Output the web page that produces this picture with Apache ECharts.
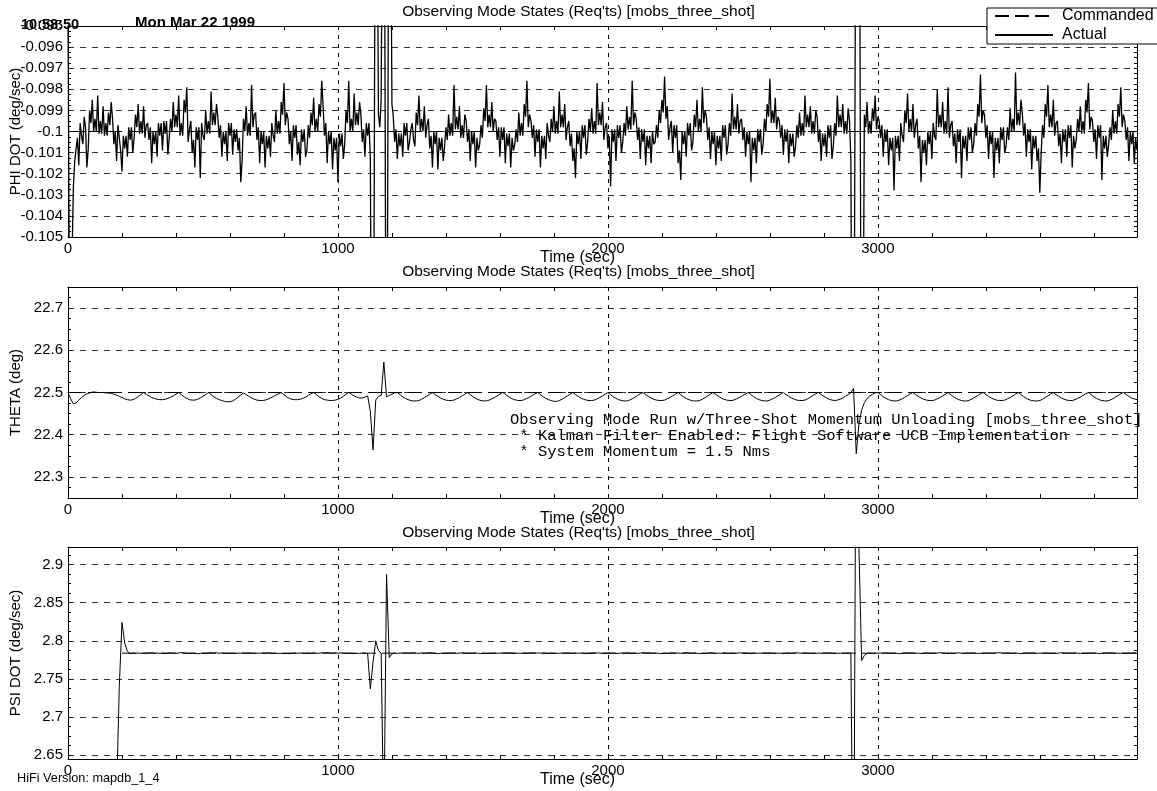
<!DOCTYPE html>
<html>
<head>
<meta charset="utf-8">
<title>Observing Mode States</title>
<script src="https://cdn.jsdelivr.net/npm/echarts@6/dist/echarts.min.js"></script>
<style>
  html, body { margin: 0; padding: 0; background: #fff; }
  #chart { width: 1157px; height: 791px; }
</style>
</head>
<body>
<div id="chart"></div>
<script>
// PHI DOT is sampled every 5 s, THETA and PSI DOT every 10 s.
const PHI_STEP = 5;
const ATT_STEP = 10;
const timeRange = [0, 3960];
const timeTicks = [0, 1000, 2000, 3000];

// PHI DOT (deg/sec), actual — one row per 100 s
const phiDot = [
  -0.0940, -0.1080, -0.1070, -0.1060, -0.1026, -0.1014, -0.1008, -0.1003, -0.1016, -0.0996, -0.1002, -0.1006, -0.0993, -0.0998, -0.1017, -0.1008, -0.0990, -0.0996, -0.0985, -0.1000,
  -0.0994, -0.1000, -0.0983, -0.1001, -0.0995, -0.1001, -0.0988, -0.1002, -0.0996, -0.1002, -0.0991, -0.0997, -0.0986, -0.0994, -0.1006, -0.1000, -0.1014, -0.0997, -0.1003, -0.1009,
  -0.1019, -0.1002, -0.1008, -0.1002, -0.1012, -0.0998, -0.1004, -0.0998, -0.1010, -0.1003, -0.0992, -0.0998, -0.0987, -0.1001, -0.0995, -0.1001, -0.0988, -0.1003, -0.0997, -0.0996,
  -0.1004, -0.0998, -0.1015, -0.1000, -0.1006, -0.1000, -0.1012, -0.0996, -0.1002, -0.0996, -0.1009, -0.0995, -0.1001, -0.0995, -0.1011, -0.1003, -0.0994, -0.1000, -0.0986, -0.0998,
  -0.0992, -0.0998, -0.0983, -0.1002, -0.0996, -0.1002, -0.0985, -0.0991, -0.0979, -0.1005, -0.0999, -0.0995, -0.1010, -0.1004, -0.1017, -0.0998, -0.1004, -0.0998, -0.1022, -0.0996,
  -0.1002, -0.1004, -0.0990, -0.1001, -0.0995, -0.1001, -0.0981, -0.0997, -0.0991, -0.0997, -0.0987, -0.0993, -0.1003, -0.0997, -0.1012, -0.1000, -0.1006, -0.1000, -0.1014, -0.0996,
  -0.1002, -0.0996, -0.1011, -0.0999, -0.1005, -0.0999, -0.1009, -0.1003, -0.1024, -0.1014, -0.0994, -0.1000, -0.0988, -0.1002, -0.0996, -0.1002, -0.0978, -0.0998, -0.0992, -0.0991,
  -0.1004, -0.0998, -0.1015, -0.1000, -0.1006, -0.1000, -0.1017, -0.1002, -0.1008, -0.1002, -0.1012, -0.0996, -0.1002, -0.1005, -0.0990, -0.1001, -0.0995, -0.1001, -0.0986, -0.0992,
  -0.0977, -0.0997, -0.0991, -0.0994, -0.1006, -0.1000, -0.1014, -0.0997, -0.1003, -0.0997, -0.1011, -0.1005, -0.1016, -0.0999, -0.1005, -0.0999, -0.1012, -0.1009, -0.0997, -0.1003,
  -0.0991, -0.0997, -0.0984, -0.1000, -0.0994, -0.1000, -0.0987, -0.0993, -0.0976, -0.0988, -0.1002, -0.0996, -0.1015, -0.1000, -0.1006, -0.1000, -0.1018, -0.1003, -0.1009, -0.1003,
  -0.1024, -0.1001, -0.1007, -0.1001, -0.1013, -0.1006, -0.0990, -0.0996, -0.0976, -0.1000, -0.0994, -0.1000, -0.0982, -0.0997, -0.0991, -0.0997, -0.0986, -0.0992, -0.1005, -0.0999,
  -0.1012, -0.0996, -0.1002, -0.0996, -0.1013, -0.1150, -0.1200, -0.1000, -0.0800, -0.0880, -0.0992, -0.0998, -0.0985, -0.0880, -0.0800, -0.1000, -0.1200, -0.1000, -0.0800, -0.0880,
  -0.0987, -0.0993, -0.1005, -0.0999, -0.1013, -0.1001, -0.1007, -0.1001, -0.1012, -0.0996, -0.1002, -0.0996, -0.1009, -0.1005, -0.0999, -0.0996, -0.1004, -0.1007, -0.0991, -0.0997,
  -0.0983, -0.1000, -0.0994, -0.1000, -0.0988, -0.1003, -0.0997, -0.0994, -0.1008, -0.1002, -0.1017, -0.1000, -0.1006, -0.1000, -0.1018, -0.1003, -0.1009, -0.1003, -0.1014, -0.1007,
  -0.0998, -0.1004, -0.0992, -0.1002, -0.0996, -0.1002, -0.0978, -0.0999, -0.0993, -0.0999, -0.0988, -0.1003, -0.0997, -0.1003, -0.0992, -0.0995, -0.1005, -0.0999, -0.1014, -0.1000,
  -0.1006, -0.1000, -0.1017, -0.1003, -0.1009, -0.1006, -0.0997, -0.1003, -0.0989, -0.0995, -0.0978, -0.0998, -0.0992, -0.0998, -0.0986, -0.1000, -0.0994, -0.0995, -0.1004, -0.0998,
  -0.1012, -0.0998, -0.1004, -0.0998, -0.1015, -0.1001, -0.1007, -0.1001, -0.1017, -0.1003, -0.1009, -0.1006, -0.0999, -0.1005, -0.0991, -0.1002, -0.0996, -0.1002, -0.0987, -0.0993,
  -0.0976, -0.0998, -0.0992, -0.0995, -0.1003, -0.0997, -0.1012, -0.0999, -0.1005, -0.0999, -0.1017, -0.1002, -0.1008, -0.1002, -0.1013, -0.0996, -0.1002, -0.1005, -0.0994, -0.1000,
  -0.0988, -0.1001, -0.0995, -0.1001, -0.0981, -0.0998, -0.0992, -0.0998, -0.0987, -0.1004, -0.0998, -0.0995, -0.1007, -0.1001, -0.1014, -0.1008, -0.1022, -0.1000, -0.1006, -0.1000,
  -0.1013, -0.0997, -0.1003, -0.0997, -0.1011, -0.1005, -0.0994, -0.1000, -0.0989, -0.1001, -0.0995, -0.1001, -0.0977, -0.0997, -0.0991, -0.0997, -0.0986, -0.1004, -0.0998, -0.0996,
  -0.1008, -0.1002, -0.1026, -0.0999, -0.1005, -0.0999, -0.1014, -0.0997, -0.1003, -0.0997, -0.1010, -0.1005, -0.0996, -0.1002, -0.0988, -0.0999, -0.0993, -0.0999, -0.0976, -0.0997,
  -0.0991, -0.0994, -0.1004, -0.0998, -0.1013, -0.0999, -0.1005, -0.0999, -0.1016, -0.1002, -0.1008, -0.1002, -0.1015, -0.1000, -0.1006, -0.1005, -0.0997, -0.1003, -0.0990, -0.0996,
  -0.0985, -0.0991, -0.0974, -0.0994, -0.0988, -0.1004, -0.0998, -0.0995, -0.1010, -0.0997, -0.1003, -0.0997, -0.1015, -0.1009, -0.1023, -0.1000, -0.1006, -0.1000, -0.1012, -0.0996,
  -0.1002, -0.0996, -0.1009, -0.1005, -0.0992, -0.0998, -0.0985, -0.1000, -0.0994, -0.1000, -0.0979, -0.0996, -0.0990, -0.0993, -0.1004, -0.0998, -0.1013, -0.1000, -0.1006, -0.1000,
  -0.1016, -0.1002, -0.1008, -0.1002, -0.1014, -0.0997, -0.1003, -0.0997, -0.1011, -0.1006, -0.0996, -0.1002, -0.0982, -0.0999, -0.0993, -0.0999, -0.0987, -0.1001, -0.0995, -0.0994,
  -0.1004, -0.0998, -0.1012, -0.1000, -0.1006, -0.1000, -0.1024, -0.1003, -0.1009, -0.1003, -0.1015, -0.0999, -0.1005, -0.0999, -0.1011, -0.1006, -0.0994, -0.1000, -0.0987, -0.0993,
  -0.0975, -0.0996, -0.0990, -0.0996, -0.0984, -0.0999, -0.0993, -0.0995, -0.1003, -0.0997, -0.1011, -0.0999, -0.1005, -0.0999, -0.1015, -0.1001, -0.1007, -0.1001, -0.1012, -0.1007,
  -0.0997, -0.1003, -0.0991, -0.1002, -0.0996, -0.1002, -0.0983, -0.0998, -0.0992, -0.0998, -0.0988, -0.1001, -0.0995, -0.1001, -0.0990, -0.0993, -0.1005, -0.0999, -0.1014, -0.1001,
  -0.1007, -0.1001, -0.1012, -0.0997, -0.1003, -0.0997, -0.1013, -0.1007, -0.0996, -0.1002, -0.0983, -0.0998, -0.0992, -0.0998, -0.0987, -0.1001, -0.0995, -0.1001, -0.0989, -0.0995,
  -0.1013, -0.1150, -0.1200, -0.1000, -0.0800, -0.0800, -0.0800, -0.1000, -0.1200, -0.1120, -0.0992, -0.0998, -0.0986, -0.1001, -0.0995, -0.1001, -0.0989, -0.0995, -0.0983, -0.0999,
  -0.0993, -0.0995, -0.1003, -0.0997, -0.1012, -0.0999, -0.1005, -0.0999, -0.1016, -0.1003, -0.1009, -0.1003, -0.1028, -0.1002, -0.1008, -0.1002, -0.1014, -0.0996, -0.1002, -0.1005,
  -0.0990, -0.0996, -0.0982, -0.1000, -0.0994, -0.1000, -0.0987, -0.1003, -0.0997, -0.0994, -0.1008, -0.1002, -0.1024, -0.1004, -0.1010, -0.1004, -0.1016, -0.1000, -0.1006, -0.1000,
  -0.1013, -0.0996, -0.1002, -0.1004, -0.0980, -0.0998, -0.0992, -0.0998, -0.0986, -0.1001, -0.0995, -0.1001, -0.0979, -0.1003, -0.0997, -0.0995, -0.1007, -0.1001, -0.1015, -0.0999,
  -0.1005, -0.0999, -0.1022, -0.1002, -0.1008, -0.1002, -0.1014, -0.0998, -0.1004, -0.0998, -0.1010, -0.1006, -0.0996, -0.1002, -0.0987, -0.0993, -0.0973, -0.0996, -0.0990, -0.0992,
  -0.1003, -0.0997, -0.1013, -0.1000, -0.1006, -0.1000, -0.1022, -0.1003, -0.1009, -0.1003, -0.1015, -0.0998, -0.1004, -0.0998, -0.1010, -0.1007, -0.0998, -0.1004, -0.0989, -0.1000,
  -0.0994, -0.1000, -0.0972, -0.0997, -0.0991, -0.0997, -0.0985, -0.0991, -0.1002, -0.0996, -0.1012, -0.0999, -0.1005, -0.0999, -0.1018, -0.1002, -0.1008, -0.1002, -0.1014, -0.1008,
  -0.1029, -0.1010, -0.0997, -0.1003, -0.0987, -0.0993, -0.0978, -0.0998, -0.0992, -0.0998, -0.0985, -0.1002, -0.0996, -0.0995, -0.1007, -0.1001, -0.1015, -0.0999, -0.1005, -0.0999,
  -0.1012, -0.0997, -0.1003, -0.0997, -0.1017, -0.1002, -0.1008, -0.1004, -0.0994, -0.1000, -0.0988, -0.1001, -0.0995, -0.1001, -0.0985, -0.0991, -0.0977, -0.0999, -0.0993, -0.0995,
  -0.1005, -0.0999, -0.1013, -0.0997, -0.1003, -0.0997, -0.1023, -0.1002, -0.1008, -0.1002, -0.1012, -0.1006, -0.0998, -0.1004, -0.0990, -0.1001, -0.0995, -0.1001, -0.0987, -0.0993,
  -0.0979, -0.0998, -0.0992, -0.0995, -0.1004, -0.0998, -0.1014, -0.1000, -0.1006, -0.1000, -0.1015, -0.1003, -0.1009
];

// THETA (deg), actual — one row per 100 s
const theta = [
  22.500, 22.485, 22.473, 22.475, 22.482, 22.488, 22.493, 22.497, 22.499, 22.501,
  22.501, 22.500, 22.500, 22.500, 22.499, 22.499, 22.498, 22.496, 22.494, 22.491,
  22.488, 22.485, 22.483, 22.482, 22.483, 22.486, 22.490, 22.495, 22.500, 22.496,
  22.492, 22.488, 22.486, 22.484, 22.483, 22.483, 22.484, 22.486, 22.489, 22.492,
  22.496, 22.500, 22.495, 22.490, 22.486, 22.483, 22.482, 22.482, 22.484, 22.487,
  22.491, 22.495, 22.500, 22.495, 22.490, 22.486, 22.483, 22.481, 22.479, 22.478,
  22.478, 22.480, 22.484, 22.489, 22.494, 22.499, 22.495, 22.491, 22.487, 22.484,
  22.482, 22.481, 22.481, 22.482, 22.484, 22.487, 22.490, 22.494, 22.497, 22.500,
  22.495, 22.490, 22.486, 22.484, 22.483, 22.483, 22.484, 22.486, 22.489, 22.493,
  22.497, 22.500, 22.495, 22.490, 22.486, 22.483, 22.482, 22.481, 22.481, 22.482,
  22.484, 22.487, 22.491, 22.496, 22.500, 22.496, 22.492, 22.489, 22.487, 22.487,
  22.489, 22.492, 22.455, 22.364, 22.482, 22.491, 22.493, 22.572, 22.490, 22.493,
  22.496, 22.499, 22.500, 22.495, 22.490, 22.486, 22.483, 22.481, 22.480, 22.480,
  22.481, 22.484, 22.488, 22.492, 22.496, 22.500, 22.495, 22.491, 22.487, 22.484,
  22.482, 22.481, 22.481, 22.482, 22.485, 22.488, 22.492, 22.496, 22.500, 22.495,
  22.490, 22.486, 22.483, 22.481, 22.480, 22.480, 22.482, 22.485, 22.488, 22.492,
  22.496, 22.500, 22.496, 22.491, 22.487, 22.484, 22.482, 22.481, 22.481, 22.483,
  22.486, 22.489, 22.493, 22.497, 22.500, 22.495, 22.490, 22.486, 22.483, 22.481,
  22.479, 22.479, 22.481, 22.484, 22.488, 22.492, 22.496, 22.500, 22.495, 22.491,
  22.487, 22.484, 22.482, 22.481, 22.481, 22.482, 22.485, 22.488, 22.492, 22.496,
  22.500, 22.495, 22.490, 22.486, 22.483, 22.481, 22.480, 22.480, 22.482, 22.485,
  22.489, 22.493, 22.497, 22.500, 22.495, 22.491, 22.487, 22.484, 22.482, 22.481,
  22.481, 22.482, 22.485, 22.488, 22.492, 22.496, 22.500, 22.495, 22.490, 22.486,
  22.483, 22.481, 22.480, 22.480, 22.481, 22.484, 22.488, 22.492, 22.496, 22.500,
  22.495, 22.491, 22.487, 22.484, 22.482, 22.481, 22.481, 22.483, 22.486, 22.489,
  22.493, 22.497, 22.500, 22.495, 22.490, 22.486, 22.483, 22.481, 22.480, 22.480,
  22.482, 22.485, 22.488, 22.492, 22.496, 22.500, 22.495, 22.491, 22.487, 22.484,
  22.482, 22.481, 22.481, 22.482, 22.485, 22.489, 22.493, 22.497, 22.500, 22.495,
  22.491, 22.487, 22.484, 22.482, 22.481, 22.482, 22.484, 22.487, 22.491, 22.495,
  22.499, 22.510, 22.355, 22.425, 22.458, 22.476, 22.486, 22.492, 22.496, 22.499,
  22.500, 22.495, 22.490, 22.486, 22.483, 22.481, 22.480, 22.480, 22.482, 22.485,
  22.489, 22.493, 22.497, 22.500, 22.495, 22.491, 22.487, 22.484, 22.482, 22.481,
  22.481, 22.482, 22.485, 22.488, 22.492, 22.496, 22.500, 22.495, 22.490, 22.486,
  22.483, 22.481, 22.480, 22.480, 22.482, 22.485, 22.489, 22.493, 22.497, 22.500,
  22.495, 22.491, 22.487, 22.484, 22.482, 22.481, 22.481, 22.482, 22.485, 22.488,
  22.492, 22.496, 22.500, 22.495, 22.490, 22.486, 22.483, 22.481, 22.480, 22.480,
  22.481, 22.484, 22.488, 22.492, 22.496, 22.500, 22.495, 22.491, 22.487, 22.484,
  22.482, 22.481, 22.481, 22.483, 22.486, 22.489, 22.493, 22.497, 22.500, 22.495,
  22.490, 22.486, 22.483, 22.481, 22.480, 22.480, 22.482, 22.485, 22.489, 22.493,
  22.497, 22.500, 22.495, 22.491, 22.487, 22.485, 22.483
];

// PSI DOT (deg/sec), actual — one row per 100 s
const psiDot = [
  2.5500, 2.5500, 2.5500, 2.5500, 2.5500, 2.5500, 2.5500, 2.5500, 2.5500, 2.5500,
  2.5500, 2.5500, 2.5500, 2.5500, 2.5500, 2.5500, 2.5500, 2.5500, 2.6000, 2.7400,
  2.8240, 2.7970, 2.7860, 2.7832, 2.7838, 2.7835, 2.7841, 2.7837, 2.7834, 2.7840,
  2.7838, 2.7843, 2.7836, 2.7840, 2.7835, 2.7839, 2.7833, 2.7837, 2.7842, 2.7838,
  2.7835, 2.7840, 2.7846, 2.7839, 2.7836, 2.7832, 2.7837, 2.7835, 2.7830, 2.7834,
  2.7838, 2.7836, 2.7841, 2.7844, 2.7839, 2.7843, 2.7837, 2.7840, 2.7835, 2.7838,
  2.7834, 2.7837, 2.7833, 2.7839, 2.7836, 2.7840, 2.7838, 2.7842, 2.7837, 2.7835,
  2.7839, 2.7836, 2.7840, 2.7837, 2.7841, 2.7838, 2.7834, 2.7837, 2.7833, 2.7836,
  2.7832, 2.7835, 2.7831, 2.7836, 2.7839, 2.7836, 2.7840, 2.7837, 2.7835, 2.7839,
  2.7836, 2.7840, 2.7834, 2.7838, 2.7843, 2.7838, 2.7846, 2.7840, 2.7836, 2.7841,
  2.7837, 2.7842, 2.7838, 2.7834, 2.7838, 2.7835, 2.7832, 2.7837, 2.7834, 2.7839,
  2.7836, 2.7832, 2.7370, 2.7720, 2.8000, 2.7870, 2.7840, 2.5500, 2.8870, 2.7780,
  2.7830, 2.7838, 2.7835, 2.7840, 2.7837, 2.7841, 2.7836, 2.7839, 2.7843, 2.7838,
  2.7835, 2.7839, 2.7836, 2.7840, 2.7844, 2.7839, 2.7836, 2.7833, 2.7837, 2.7834,
  2.7838, 2.7841, 2.7837, 2.7840, 2.7836, 2.7839, 2.7842, 2.7838, 2.7835, 2.7839,
  2.7836, 2.7840, 2.7837, 2.7833, 2.7836, 2.7832, 2.7837, 2.7835, 2.7839, 2.7836,
  2.7840, 2.7837, 2.7841, 2.7838, 2.7842, 2.7837, 2.7834, 2.7838, 2.7835, 2.7839,
  2.7836, 2.7839, 2.7843, 2.7838, 2.7841, 2.7837, 2.7840, 2.7836, 2.7833, 2.7837,
  2.7834, 2.7838, 2.7835, 2.7840, 2.7837, 2.7841, 2.7838, 2.7835, 2.7839, 2.7836,
  2.7840, 2.7836, 2.7833, 2.7837, 2.7841, 2.7838, 2.7842, 2.7839, 2.7835, 2.7838,
  2.7835, 2.7839, 2.7836, 2.7832, 2.7836, 2.7840, 2.7837, 2.7841, 2.7838, 2.7834,
  2.7838, 2.7835, 2.7840, 2.7844, 2.7839, 2.7842, 2.7838, 2.7835, 2.7839, 2.7836,
  2.7833, 2.7837, 2.7834, 2.7838, 2.7841, 2.7837, 2.7840, 2.7836, 2.7839, 2.7843,
  2.7839, 2.7836, 2.7840, 2.7837, 2.7833, 2.7837, 2.7834, 2.7838, 2.7842, 2.7838,
  2.7835, 2.7839, 2.7836, 2.7840, 2.7837, 2.7834, 2.7838, 2.7835, 2.7839, 2.7842,
  2.7838, 2.7841, 2.7837, 2.7834, 2.7838, 2.7835, 2.7839, 2.7836, 2.7840, 2.7837,
  2.7841, 2.7838, 2.7835, 2.7839, 2.7836, 2.7833, 2.7837, 2.7840, 2.7836, 2.7839,
  2.7843, 2.7839, 2.7836, 2.7840, 2.7837, 2.7834, 2.7838, 2.7835, 2.7839, 2.7836,
  2.7840, 2.7837, 2.7841, 2.7838, 2.7834, 2.7838, 2.7835, 2.7839, 2.7836, 2.7840,
  2.7838, 2.4000, 3.2000, 2.9200, 2.7740, 2.7810, 2.7836, 2.7840, 2.7834, 2.7839,
  2.7836, 2.7840, 2.7837, 2.7841, 2.7838, 2.7835, 2.7839, 2.7836, 2.7833, 2.7837,
  2.7841, 2.7838, 2.7842, 2.7839, 2.7835, 2.7838, 2.7834, 2.7837, 2.7840, 2.7836,
  2.7839, 2.7836, 2.7840, 2.7843, 2.7839, 2.7836, 2.7833, 2.7837, 2.7834, 2.7838,
  2.7842, 2.7838, 2.7835, 2.7839, 2.7836, 2.7840, 2.7837, 2.7834, 2.7838, 2.7835,
  2.7839, 2.7836, 2.7840, 2.7837, 2.7841, 2.7844, 2.7840, 2.7837, 2.7841, 2.7838,
  2.7835, 2.7839, 2.7836, 2.7832, 2.7836, 2.7840, 2.7837, 2.7841, 2.7838, 2.7835,
  2.7839, 2.7836, 2.7840, 2.7837, 2.7834, 2.7838, 2.7835, 2.7839, 2.7843, 2.7839,
  2.7836, 2.7840, 2.7837, 2.7841, 2.7838, 2.7834, 2.7838, 2.7835, 2.7839, 2.7836,
  2.7840, 2.7837, 2.7833, 2.7837, 2.7841, 2.7838, 2.7842, 2.7839, 2.7835, 2.7838,
  2.7835, 2.7839, 2.7836, 2.7840, 2.7837, 2.7841, 2.7838
];

// Commanded values: [start time, end time] and the constant command
const phiCommandedTime = [0, 3960];
const phiCommanded = [-0.1, -0.1];
const thetaCommandedTime = [0, 3960];
const thetaCommanded = [22.5, 22.5];
const psiCommandedTime = [200, 3960];
const psiCommanded = [2.7838, 2.7838];

// Axis extents and labelled ticks
const phiRange = [-0.105, -0.095];
const phiTicks = [-0.105, -0.104, -0.103, -0.102, -0.101, -0.1, -0.099, -0.098, -0.097, -0.096, -0.095];
const thetaRange = [22.25, 22.75];
const thetaTicks = [22.3, 22.4, 22.5, 22.6, 22.7];
const psiRange = [2.645, 2.923];
const psiTicks = [2.65, 2.7, 2.75, 2.8, 2.85, 2.9];

const panelTitle = "Observing Mode States (Req'ts) [mobs_three_shot]";
const yNames = ['PHI DOT (deg/sec)', 'THETA (deg)', 'PSI DOT (deg/sec)'];
const xName = 'Time (sec)';
const seriesNames = ['Commanded', 'Actual'];
const stampTime = '10:58:50';
const stampDate = 'Mon Mar 22 1999';
const versionText = 'HiFi Version: mapdb_1_4';
const noteLines = [
  'Observing Mode Run w/Three-Shot Momentum Unloading [mobs_three_shot]',
  ' * Kalman Filter Enabled: Flight Software UCB Implementation',
  ' * System Momentum = 1.5 Nms'
];

// ---------- layout & styling ----------
const SANS = '"Liberation Sans", Arial, Helvetica, sans-serif';
const MONO = '"Liberation Mono", "Courier New", monospace';
const INK = '#000';
const panels = [
  { top: 26,  height: 211, range: phiRange,   ticks: phiTicks,   actual: phiDot, step: PHI_STEP, width: 1.3, cmdT: phiCommandedTime,   cmd: phiCommanded,   titleTop: 4 },
  { top: 287, height: 211, range: thetaRange, ticks: thetaTicks, actual: theta,  step: ATT_STEP, width: 1,   cmdT: thetaCommandedTime, cmd: thetaCommanded, titleTop: 264 },
  { top: 547, height: 212, range: psiRange,   ticks: psiTicks,   actual: psiDot, step: ATT_STEP, width: 1,   cmdT: psiCommandedTime,   cmd: psiCommanded,   titleTop: 525 }
];
const GRID_LEFT = 68, GRID_WIDTH = 1069;

function withMinor(ticks, range, parts) {
  const step = (ticks[1] - ticks[0]) / parts;
  const out = [];
  for (let k = 0; ticks[0] - k * step >= range[0] - step * 1e-6; k++) out.push(ticks[0] - k * step);
  for (let k = 1; ticks[0] + k * step <= range[1] + step * 1e-6; k++) out.push(ticks[0] + k * step);
  return out;
}
const xMinor = [];
for (let t = 0; t < timeRange[1]; t += 200) xMinor.push(t);
const plainNumber = v => String(+v.toPrecision(6));

const grid = [], xAxis = [], yAxis = [], series = [], title = [];
panels.forEach((p, i) => {
  grid.push({ left: GRID_LEFT, top: p.top, width: GRID_WIDTH, height: p.height, show: false, containLabel: false, outerBoundsMode: 'none' });
  title.push({
    text: panelTitle, left: 'center', top: p.titleTop, padding: 0,
    textStyle: { fontFamily: SANS, fontSize: 15.5, fontWeight: 'normal', color: INK }
  });
  const base = { type: 'value', gridIndex: i, min: timeRange[0], max: timeRange[1] };
  // bottom edge: labels and small inside ticks
  xAxis.push(Object.assign({}, base, {
    position: 'bottom',
    axisLine: { show: true, onZero: false, lineStyle: { color: INK, width: 1 } },
    axisTick: { show: true, inside: true, length: 4, customValues: xMinor, lineStyle: { color: INK } },
    axisLabel: { customValues: timeTicks, formatter: plainNumber, color: INK, fontFamily: SANS, fontSize: 15, margin: 4 },
    splitLine: { show: false },
    name: xName, nameLocation: 'middle', nameGap: 13, nameMoveOverlap: false,
    nameTextStyle: { color: INK, fontFamily: SANS, fontSize: 16, padding: [0, 50, 0, 0] }
  }));
  // top edge with the vertical dashed grid
  xAxis.push(Object.assign({}, base, {
    position: 'top',
    axisLine: { show: true, onZero: false, lineStyle: { color: INK, width: 1 } },
    axisTick: { show: false, customValues: timeTicks.slice(1) },
    axisLabel: { show: false },
    splitLine: { show: true, lineStyle: { color: INK, width: 1, type: [4, 5] } }
  }));
  // top edge inside ticks
  xAxis.push(Object.assign({}, base, {
    position: 'top',
    axisLine: { show: false },
    axisTick: { show: true, inside: true, length: 4, customValues: xMinor, lineStyle: { color: INK } },
    axisLabel: { show: false },
    splitLine: { show: false }
  }));

  const ybase = { type: 'value', gridIndex: i, min: p.range[0], max: p.range[1] };
  const minor = withMinor(p.ticks, p.range, 4);
  yAxis.push(Object.assign({}, ybase, {
    position: 'left',
    axisLine: { show: true, onZero: false, lineStyle: { color: INK, width: 1 } },
    axisTick: { show: true, inside: true, length: 3, customValues: minor, lineStyle: { color: INK } },
    axisLabel: { customValues: p.ticks, formatter: plainNumber, color: INK, fontFamily: SANS, fontSize: 15, margin: 5 },
    splitLine: { show: false },
    name: yNames[i], nameLocation: 'middle', nameGap: 45, nameMoveOverlap: false,
    nameTextStyle: { color: INK, fontFamily: SANS, fontSize: 15 }
  }));
  yAxis.push(Object.assign({}, ybase, {
    position: 'right',
    axisLine: { show: true, onZero: false, lineStyle: { color: INK, width: 1 } },
    axisTick: { show: true, inside: true, length: 3, customValues: minor, lineStyle: { color: INK } },
    axisLabel: { show: false },
    splitLine: { show: false }
  }));
  yAxis.push(Object.assign({}, ybase, {
    position: 'right',
    axisLine: { show: false },
    axisTick: { show: false, customValues: p.ticks },
    axisLabel: { show: false },
    splitLine: { show: true, lineStyle: { color: '#333', width: 1, type: [6, 6] } }
  }));

  series.push({
    type: 'line', name: seriesNames[0], xAxisIndex: 3 * i, yAxisIndex: 3 * i,
    data: p.cmdT.map((t, k) => [t, p.cmd[k]]),
    symbol: 'none', showSymbol: false, clip: true, silent: true,
    lineStyle: { color: INK, width: 1, type: [14, 6] }, itemStyle: { color: INK }
  });
  series.push({
    type: 'line', name: seriesNames[1], xAxisIndex: 3 * i, yAxisIndex: 3 * i,
    data: p.actual.map((v, k) => [k * p.step, v]),
    symbol: 'none', showSymbol: false, clip: true, silent: true,
    lineStyle: { color: INK, width: p.width }, itemStyle: { color: INK }
  });
});

const chart = echarts.init(document.getElementById('chart'), null, { renderer: 'canvas' });
chart.setOption({
  backgroundColor: '#fff',
  animation: false,
  title,
  grid, xAxis, yAxis, series,
  legend: {
    data: seriesNames, orient: 'vertical', left: 987, top: 8,
    itemWidth: 58, itemHeight: 13, itemGap: 3, selectedMode: false,
    padding: [0, 40, 1, 7],
    itemStyle: { opacity: 0 },
    backgroundColor: '#fff', borderColor: INK, borderWidth: 1,
    textStyle: { color: INK, fontFamily: SANS, fontSize: 16, lineHeight: 14, padding: [0, 0, 0, 4] }
  },
  graphic: [
    { type: 'text', left: 21, top: 17, z: 10,
      style: { text: stampTime, font: 'bold 14.5px ' + SANS, fill: INK } },
    { type: 'text', left: 135, top: 15, z: 10,
      style: { text: stampDate, font: 'bold 15px ' + SANS, fill: INK } },
    { type: 'text', left: 17, top: 772, z: 10,
      style: { text: versionText, font: '12.7px ' + SANS, fill: INK } },
    { type: 'text', left: 510, top: 412, z: 10,
      style: { text: noteLines.join('\n'), font: '15.5px ' + MONO, lineHeight: 16, fill: INK } }
  ]
});
</script>
</body>
</html>
